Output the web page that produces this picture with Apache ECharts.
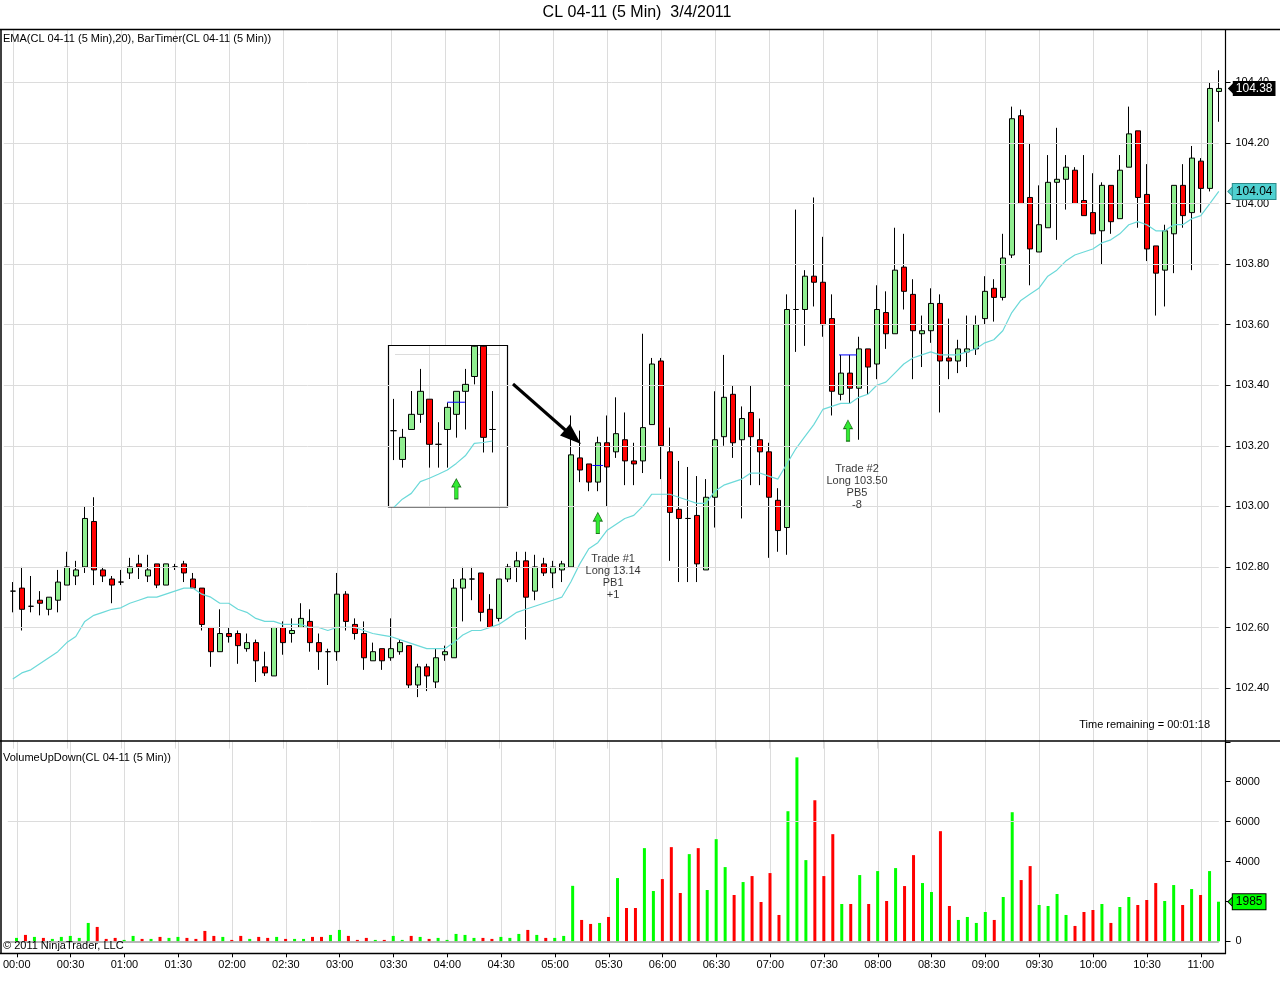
<!DOCTYPE html>
<html><head><meta charset="utf-8">
<script src="https://cdn.jsdelivr.net/npm/echarts@6/dist/echarts.min.js"></script>
<style>html,body{margin:0;padding:0;background:#fff;}#c{width:1280px;height:999px;}</style>
</head><body><div id="c"></div>
<script>
// ---------- DATA ----------
const opens = [102.72,102.73,102.67,102.69,102.66,102.69,102.74,102.77,102.80,102.95,
102.79,102.76,102.75,102.78,102.81,102.77,102.81,102.74,102.80,102.81,
102.76,102.73,102.60,102.52,102.58,102.58,102.53,102.55,102.47,102.44,
102.60,102.58,102.60,102.62,102.55,102.52,102.52,102.71,102.61,102.58,
102.49,102.53,102.50,102.52,102.54,102.41,102.47,102.42,102.51,102.50,
102.73,102.76,102.78,102.66,102.63,102.76,102.80,102.82,102.72,102.81,
102.78,102.79,102.80,103.16,103.14,103.08,103.21,103.18,103.22,103.15,
103.15,103.27,103.48,103.18,102.99,102.96,102.97,102.79,103.03,103.23,
103.37,103.22,103.31,103.22,103.18,103.02,102.93,103.65,103.65,103.76,
103.74,103.62,103.37,103.44,103.39,103.52,103.47,103.64,103.57,103.79,
103.70,103.57,103.58,103.67,103.49,103.48,103.51,103.52,103.62,103.72,
103.69,103.83,104.29,104.02,103.84,103.92,104.07,104.08,104.11,104.01,
103.97,103.91,104.06,103.95,104.12,104.24,104.03,103.86,103.78,103.90,
104.06,103.97,104.14,104.05,104.37];
const closes = [102.72,102.66,102.67,102.68,102.70,102.75,102.80,102.79,102.96,102.79,
102.77,102.74,102.75,102.80,102.80,102.79,102.74,102.81,102.80,102.78,
102.73,102.61,102.52,102.58,102.57,102.54,102.55,102.49,102.45,102.60,
102.55,102.59,102.63,102.55,102.52,102.52,102.71,102.62,102.58,102.50,
102.52,102.49,102.53,102.55,102.41,102.47,102.44,102.50,102.52,102.73,
102.76,102.76,102.65,102.60,102.76,102.80,102.82,102.70,102.80,102.78,
102.80,102.81,103.17,103.12,103.08,103.21,103.13,103.24,103.15,103.14,
103.26,103.47,103.20,102.98,102.96,102.96,102.81,103.03,103.22,103.36,
103.21,103.29,103.23,103.18,103.03,102.92,103.65,103.65,103.76,103.74,
103.60,103.38,103.44,103.39,103.52,103.46,103.65,103.57,103.78,103.71,
103.58,103.58,103.67,103.48,103.48,103.52,103.52,103.60,103.71,103.69,
103.82,104.28,104.00,103.85,103.93,104.07,104.08,104.12,104.00,103.96,
103.90,104.06,103.94,104.11,104.23,104.02,103.85,103.77,103.91,104.06,
103.96,104.15,104.05,104.38,104.38];
const highs = [102.75,102.80,102.77,102.72,102.70,102.79,102.85,102.82,103.00,103.03,
102.80,102.77,102.79,102.83,102.84,102.84,102.81,102.81,102.81,102.82,
102.78,102.73,102.60,102.66,102.60,102.59,102.58,102.56,102.52,102.60,
102.62,102.63,102.68,102.66,102.58,102.53,102.78,102.72,102.63,102.62,
102.55,102.53,102.63,102.56,102.54,102.48,102.48,102.53,102.54,102.76,
102.80,102.80,102.78,102.71,102.76,102.81,102.85,102.85,102.84,102.83,
102.82,102.82,103.30,103.25,103.14,103.23,103.30,103.36,103.31,103.21,
103.57,103.49,103.49,103.26,103.15,103.13,103.10,103.09,103.38,103.50,
103.40,103.33,103.40,103.29,103.21,103.06,103.70,103.98,103.78,104.02,
103.89,103.70,103.50,103.50,103.56,103.52,103.73,103.71,103.92,103.90,
103.75,103.63,103.72,103.70,103.62,103.55,103.63,103.63,103.76,103.75,
103.90,104.32,104.31,104.20,104.06,104.16,104.25,104.16,104.12,104.16,
104.10,104.07,104.06,104.16,104.32,104.24,104.13,103.86,103.93,104.06,
104.13,104.19,104.15,104.40,104.44];
const lows = [102.65,102.59,102.65,102.64,102.64,102.65,102.74,102.74,102.78,102.74,
102.75,102.68,102.74,102.76,102.76,102.75,102.73,102.74,102.79,102.75,
102.73,102.59,102.47,102.52,102.55,102.48,102.52,102.42,102.44,102.44,
102.51,102.55,102.60,102.52,102.46,102.41,102.49,102.59,102.56,102.46,
102.49,102.46,102.49,102.51,102.40,102.37,102.39,102.40,102.49,102.50,
102.62,102.69,102.62,102.60,102.62,102.75,102.75,102.56,102.69,102.77,
102.73,102.75,102.80,103.08,103.05,103.05,103.00,103.16,103.07,103.07,
103.11,103.27,103.09,102.82,102.75,102.75,102.75,102.79,102.93,103.20,
103.16,102.96,103.07,103.07,102.83,102.85,102.84,103.51,103.53,103.66,
103.56,103.30,103.35,103.34,103.22,103.37,103.42,103.52,103.57,103.65,
103.42,103.46,103.54,103.31,103.42,103.44,103.46,103.50,103.60,103.61,
103.68,103.82,104.00,103.73,103.84,103.92,103.88,103.98,104.00,103.96,
103.90,103.80,103.90,103.95,104.12,103.92,103.81,103.63,103.66,103.77,
103.92,103.78,103.97,104.04,104.27];
const ema20 = [102.43,102.45,102.46,102.48,102.50,102.52,102.55,102.57,102.62,102.64,
102.65,102.66,102.665,102.68,102.69,102.70,102.70,102.71,102.72,102.73,
102.73,102.71,102.70,102.68,102.68,102.66,102.65,102.63,102.62,102.62,
102.61,102.61,102.61,102.60,102.60,102.59,102.60,102.60,102.60,102.59,
102.58,102.575,102.57,102.56,102.55,102.54,102.53,102.53,102.53,102.55,
102.575,102.59,102.59,102.60,102.61,102.63,102.65,102.66,102.67,102.68,
102.69,102.70,102.75,102.81,102.86,102.88,102.92,102.94,102.96,102.97,
103.00,103.04,103.04,103.04,103.03,103.02,103.01,103.01,103.05,103.07,
103.08,103.09,103.11,103.11,103.10,103.09,103.14,103.19,103.23,103.27,
103.32,103.33,103.34,103.34,103.36,103.37,103.40,103.41,103.44,103.47,
103.49,103.50,103.51,103.50,103.50,103.50,103.51,103.52,103.54,103.55,
103.58,103.64,103.68,103.70,103.72,103.76,103.78,103.81,103.83,103.84,
103.85,103.87,103.88,103.90,103.93,103.94,103.93,103.91,103.91,103.93,
103.93,103.95,103.96,104.00,104.04];
const volumes = [170,320,220,170,120,220,270,170,920,720,
120,170,70,270,120,120,220,170,220,170,
120,520,270,220,70,270,120,220,170,220,
120,120,120,220,220,320,570,270,70,170,
70,70,270,70,270,220,120,170,70,370,
320,170,170,120,220,170,370,570,320,170,
170,270,2780,1070,870,920,1220,3170,1670,1670,
4670,2520,3120,4720,2420,4370,4670,2570,5120,3720,
2320,2970,3270,1970,3420,1320,6520,9220,4070,7070,
3270,5370,1870,1870,3320,1870,3520,2020,3670,2770,
4320,2920,2470,5520,1770,1070,1220,920,1470,1070,
2220,6470,3070,3770,1820,1770,2370,1320,770,1470,
1570,1870,920,1720,2220,1820,2070,2920,2020,2820,
1820,2620,2320,3520,1985];
const priceGridLevels = [102.4,102.6,102.8,103.0,103.2,103.4,103.6,103.8,104.0,104.2,104.4];
const lastPrice = 104.38, lastEma = 104.04, lastVolume = 1985;

// trade annotations: [bar position, price]
const tradeEntryLines = [[[64.4,103.135],[65.6,103.135]], [[91.8,103.50],[93.8,103.50]]];
const tradeArrows = [[65.0,102.945],[92.8,103.25]];
const tradeNotes = [
  {pos:[66.7,102.768], text:'Trade #1\nLong 13.14\nPB1\n+1'},
  {pos:[93.8,103.064], text:'Trade #2\nLong 103.50\nPB5\n-8'}
];

// inset picture (12 bars)
const insetOpen  = [103.25,103.155,103.254,103.304,103.354,103.205,103.254,103.304,103.380,103.429,103.529,103.254];
const insetClose = [103.25,103.228,103.304,103.380,103.205,103.205,103.327,103.380,103.403,103.529,103.228,103.254];
const insetLow   = [103.153,103.128,103.254,103.276,103.128,103.128,103.128,103.227,103.254,103.403,103.178,103.178];
const insetHigh  = [103.355,103.256,103.381,103.454,103.354,103.278,103.343,103.380,103.454,103.533,103.533,103.381];
const insetEma   = [102.995,103.024,103.043,103.082,103.093,103.106,103.12,103.142,103.167,103.208,103.211,103.216];
const insetEntry = [[6.0,103.344],[7.96,103.344]];
const insetArrow = [[7,103.058]];

// ---------- BUILD ----------
const pad = n => (n < 10 ? '0' : '') + n;
const barTimes = [];
for (let i = 0; i < opens.length; i++) { const m = i * 5; barTimes.push(pad(Math.floor(m / 60)) + ':' + pad(m % 60)); }
const cats = [''].concat(barTimes);
const candleData = [['-','-','-','-']].concat(opens.map((o, i) => [o, closes[i], lows[i], highs[i]]));
const emaData = ['-'].concat(ema20);
const volData = ['-'].concat(volumes.map((v, i) => ({value: v, itemStyle: {color: closes[i] >= opens[i] ? '#00FF00' : '#FF0000'}})));
const insetCats = insetOpen.map((_, i) => String(i));
const insetCandles = insetOpen.map((o, i) => [o, insetClose[i], insetLow[i], insetHigh[i]]);
const lastIdx = cats.length - 1;

const FONT = '"Liberation Sans", Arial, sans-serif';
const GRID = '#DCDCDC';
const catInterval = (idx) => idx >= 1 && (idx - 1) % 6 === 0;
const candleStyle = {color:'#90EE90', color0:'#FF0000', borderColor:'#000', borderColor0:'#000', borderColorDoji:'#000', borderWidth:1};
const arrowSym = 'path://M5,0 L10,9 L7,9 L7,22 L3,22 L3,9 L0,9 Z';
const pointer = 'path://M0,5 L6,0 L6,10 Z';

function lastMarker(value, bg, fg, border) {
  return {
    silent: true, symbol: ['none','none'],
    lineStyle: {color: 'rgba(0,0,0,0)', width: 0},
    label: {show: true, position: 'end', distance: 14, formatter: String(value), backgroundColor: bg, color: fg,
      borderColor: border, borderWidth: border ? 1 : 0, padding: [2,3,1,3], fontSize: 12, fontFamily: FONT},
    data: [{yAxis: value}]
  };
}
function lastPointer(value, color, border) {
  return {silent: true, symbol: pointer, symbolSize: [6, 12], symbolOffset: [12, 0],
    itemStyle: {color: color, borderColor: border || color, borderWidth: border ? 0.8 : 0},
    label: {show: false}, data: [{coord: [lastIdx, value]}]};
}

const PRICE_MIN = 102.2, PRICE_MAX = 104.575;
const chart = echarts.init(document.getElementById('c'), null, {renderer: 'canvas'});
const option = {
  animation: false,
  backgroundColor: '#fff',
  textStyle: {fontFamily: FONT},
  grid: [
    {left: 3.8, width: 1215, top: 29.4, height: 719.2},
    {left: 3.8, width: 1215, top: 741.8, height: 199.5},
    {left: 393.3, width: 99, top: 345.9, height: 160.5},
    {left: 3.8, width: 1215, top: 29.4, height: 719.2}
  ],
  xAxis: [
    {type: 'category', gridIndex: 0, data: cats, boundaryGap: false,
      axisLine: {show: false, onZero: false}, axisTick: {show: false}, axisLabel: {show: false},
      splitLine: {show: true, interval: catInterval, lineStyle: {color: GRID, width: 1}}},
    {type: 'category', gridIndex: 1, data: cats, boundaryGap: false, offset: 12,
      axisLine: {show: false, onZero: false},
      axisTick: {show: true, interval: catInterval, length: 4, lineStyle: {color: '#000'}},
      axisLabel: {show: true, interval: catInterval, color: '#000', fontSize: 11, margin: 6, fontFamily: FONT},
      splitLine: {show: true, interval: catInterval, lineStyle: {color: GRID, width: 1}}},
    {type: 'value', gridIndex: 3, min: -1, max: 134, show: false, axisLine: {onZero: false}},
    {type: 'category', gridIndex: 2, data: insetCats, boundaryGap: false, show: false, axisLine: {onZero: false}},
    {type: 'value', gridIndex: 2, min: 0, max: 11, show: false, axisLine: {onZero: false}}
  ],
  yAxis: [
    {type: 'value', gridIndex: 0, position: 'right', offset: 6.7, min: PRICE_MIN, max: PRICE_MAX, interval: 0.2,
      axisLine: {show: false, onZero: false},
      axisTick: {show: true, length: 5, lineStyle: {color: '#000', width: 1}},
      axisLabel: {color: '#000', fontSize: 11, margin: 10, fontFamily: FONT, showMinLabel: false, showMaxLabel: false,
        formatter: v => Number(v).toFixed(2)},
      splitLine: {show: false}},
    {type: 'value', gridIndex: 1, position: 'right', offset: 6.7, min: 0, max: 10000, interval: 2000,
      axisLine: {show: false, onZero: false},
      axisTick: {show: true, length: 5, lineStyle: {color: '#000', width: 1}},
      axisLabel: {color: '#000', fontSize: 11, margin: 10, fontFamily: FONT,
        formatter: v => (v === 2000 || v === 10000) ? '' : String(v)},
      splitLine: {show: false}},
    {type: 'value', gridIndex: 2, min: 103.0, max: 103.53, show: false, axisLine: {onZero: false}},
    {type: 'value', gridIndex: 3, min: PRICE_MIN, max: PRICE_MAX, show: false, axisLine: {onZero: false}}
  ],
  series: [
    // horizontal price grid lines (under the candles)
    {type: 'line', xAxisIndex: 0, yAxisIndex: 0, data: [], z: 1, silent: true,
      markLine: {silent: true, symbol: ['none','none'], label: {show: false},
        lineStyle: {color: GRID, width: 1, type: 'solid'},
        data: priceGridLevels.map(v => ({yAxis: v}))}},
    {type: 'candlestick', name: 'CL', xAxisIndex: 0, yAxisIndex: 0, data: candleData, barWidth: 6, clip: false, z: 3,
      itemStyle: candleStyle,
      markLine: lastMarker(lastPrice, '#000', '#fff', null),
      markPoint: lastPointer(lastPrice, '#000')},
    {type: 'line', name: 'EMA', xAxisIndex: 0, yAxisIndex: 0, data: emaData, symbol: 'none', z: 4,
      lineStyle: {color: '#6CD9D9', width: 1.2},
      markLine: lastMarker(lastEma, '#4FD0D0', '#000', '#2A8A8A'),
      markPoint: lastPointer(lastEma, '#4FD0D0', '#2A8A8A')},
    ...tradeEntryLines.map(seg => ({type: 'line', xAxisIndex: 2, yAxisIndex: 3, data: seg, symbol: 'none', z: 5,
      lineStyle: {color: '#0000FF', width: 1}})),
    {type: 'scatter', xAxisIndex: 2, yAxisIndex: 3, data: tradeArrows, symbol: arrowSym, symbolSize: [9, 21], z: 5,
      itemStyle: {color: '#00E600', borderColor: '#005500', borderWidth: 0.8}},
    {type: 'scatter', xAxisIndex: 2, yAxisIndex: 3, symbolSize: 1, z: 6, itemStyle: {color: 'rgba(0,0,0,0)'},
      label: {show: true, position: 'inside', color: '#000', fontSize: 11, lineHeight: 12, fontFamily: FONT, align: 'center'},
      data: tradeNotes.map(n => ({value: n.pos, label: {formatter: n.text}}))},
    {type: 'bar', name: 'Volume', xAxisIndex: 1, yAxisIndex: 1, data: volData, barWidth: 3, clip: false, z: 3,
      markLine: {silent: true, symbol: ['none','none'], label: {show: false},
        data: [
          {yAxis: 6000, lineStyle: {color: GRID, width: 1, type: 'solid'}},
          {yAxis: 0, lineStyle: {color: '#A0A0A0', width: 1.5, type: 'solid'}}
        ]}},
    {type: 'bar', xAxisIndex: 1, yAxisIndex: 1, data: [], z: 6,
      markLine: lastMarker(lastVolume, '#00FF00', '#000', '#000')},
    {type: 'scatter', xAxisIndex: 1, yAxisIndex: 1, data: [], z: 6,
      markPoint: lastPointer(lastVolume, '#00FF00', '#000')},
    {type: 'candlestick', xAxisIndex: 3, yAxisIndex: 2, data: insetCandles, barWidth: 6, clip: false, z: 5,
      itemStyle: candleStyle},
    {type: 'line', xAxisIndex: 3, yAxisIndex: 2, data: insetEma, symbol: 'none', z: 6,
      lineStyle: {color: '#6CD9D9', width: 1.2}},
    {type: 'line', xAxisIndex: 4, yAxisIndex: 2, data: insetEntry, symbol: 'none', z: 6,
      lineStyle: {color: '#0000FF', width: 1}},
    {type: 'scatter', xAxisIndex: 4, yAxisIndex: 2, data: insetArrow, symbol: arrowSym, symbolSize: [9, 20], z: 6,
      itemStyle: {color: '#00E600', borderColor: '#005500', borderWidth: 0.8}}
  ],
  graphic: [
    // inset frame
    {type: 'rect', z: 2, shape: {x: 388.5, y: 345.5, width: 119, height: 161.5}, style: {fill: '#fff', stroke: '#000', lineWidth: 1.2}},
    {type: 'line', z: 2, shape: {x1: 395, y1: 354.5, x2: 500, y2: 354.5}, style: {stroke: GRID, lineWidth: 1}},
    {type: 'line', z: 2, shape: {x1: 429.5, y1: 346, x2: 429.5, y2: 506}, style: {stroke: GRID, lineWidth: 1}},
    {type: 'line', z: 2, shape: {x1: 499.5, y1: 346, x2: 499.5, y2: 506}, style: {stroke: GRID, lineWidth: 1}},
    // black pointing arrow
    {type: 'line', z: 100, shape: {x1: 513, y1: 384, x2: 567, y2: 431.5}, style: {stroke: '#000', lineWidth: 3}},
    {type: 'polygon', z: 100, shape: {points: [[581, 444], [570, 424], [560, 435.5]]}, style: {fill: '#000'}},
    // panel borders
    {type: 'line', z: 100, shape: {x1: 0, y1: 29.5, x2: 1280, y2: 29.5}, style: {stroke: '#000', lineWidth: 1.5}},
    {type: 'line', z: 100, shape: {x1: 0, y1: 741, x2: 1280, y2: 741}, style: {stroke: '#000', lineWidth: 1.5}},
    {type: 'line', z: 100, shape: {x1: 0, y1: 953.5, x2: 1226, y2: 953.5}, style: {stroke: '#000', lineWidth: 1.5}},
    {type: 'line', z: 100, shape: {x1: 1, y1: 29, x2: 1, y2: 954}, style: {stroke: '#000', lineWidth: 1.5}},
    {type: 'line', z: 100, shape: {x1: 1225.5, y1: 29, x2: 1225.5, y2: 954}, style: {stroke: '#000', lineWidth: 1.2}},
    // texts
    {type: 'text', z: 100, x: 637, y: 13, style: {text: 'CL 04-11 (5 Min)  3/4/2011', font: '16px ' + FONT, fill: '#000', align: 'center', verticalAlign: 'middle'}},
    {type: 'text', z: 100, x: 3, y: 39, style: {text: 'EMA(CL 04-11 (5 Min),20), BarTimer(CL 04-11 (5 Min))', font: '11px ' + FONT, fill: '#000', align: 'left', verticalAlign: 'middle'}},
    {type: 'text', z: 100, x: 3, y: 758, style: {text: 'VolumeUpDown(CL 04-11 (5 Min))', font: '11px ' + FONT, fill: '#000', align: 'left', verticalAlign: 'middle'}},
    {type: 'text', z: 100, x: 3, y: 946, style: {text: '\u00A9 2011 NinjaTrader, LLC', font: '11px ' + FONT, fill: '#000', align: 'left', verticalAlign: 'middle'}},
    {type: 'text', z: 100, x: 1210, y: 725, style: {text: 'Time remaining = 00:01:18', font: '11px ' + FONT, fill: '#000', align: 'right', verticalAlign: 'middle'}}
  ]
};
chart.setOption(option);
</script>
</body></html>
